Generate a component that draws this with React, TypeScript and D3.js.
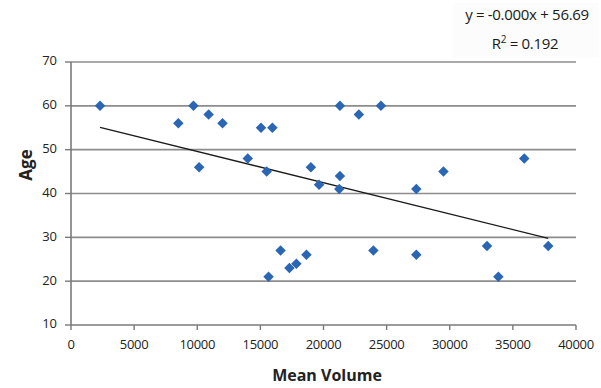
import { useEffect, useRef } from "react";
import * as d3 from "d3";

// data
const meanVolume = [
  2300, 8500, 9700, 10150, 10900, 12000, 14000, 15050, 15950, 15500, 15650,
  16600, 17300, 17850, 18650, 19000, 19650, 21300, 21300, 21250, 22800,
  24550, 23950, 27350, 27350, 29500, 32950, 33850, 35900, 37800,
];
const age = [
  60, 56, 60, 46, 58, 56, 48, 55, 55, 45, 21, 27, 23, 24, 26, 46, 42, 60, 44,
  41, 58, 60, 27, 41, 26, 45, 28, 21, 48, 28,
];
const xTicks = [0, 5000, 10000, 15000, 20000, 25000, 30000, 35000, 40000];
const yTicks = [10, 20, 30, 40, 50, 60, 70];

export default function App() {
  const svgRef = useRef<SVGSVGElement>(null);
  const width = 601;
  const height = 388;

  useEffect(() => {
    if (!svgRef.current) return;
    const svg = d3.select(svgRef.current);
    svg.selectAll("*").remove();

    const x = d3.scaleLinear().domain([0, 40000]).range([71, 576]);
    const y = d3.scaleLinear().domain([10, 70]).range([325, 62]);
    const font = "'Open Sans', 'Noto Sans', sans-serif";

    // horizontal gridlines
    yTicks.forEach((t) => {
      if (t === 10) return;
      svg
        .append("line")
        .attr("x1", x(0))
        .attr("x2", x(40000))
        .attr("y1", y(t))
        .attr("y2", y(t))
        .attr("stroke", "#8c8c8c")
        .attr("stroke-width", 1.6);
    });

    // axes
    svg
      .append("line")
      .attr("x1", x(0))
      .attr("x2", x(0))
      .attr("y1", y(70))
      .attr("y2", y(10))
      .attr("stroke", "#7a7a7a")
      .attr("stroke-width", 1.6);
    svg
      .append("line")
      .attr("x1", x(0))
      .attr("x2", x(40000))
      .attr("y1", y(10))
      .attr("y2", y(10))
      .attr("stroke", "#7a7a7a")
      .attr("stroke-width", 1.6);

    // y ticks + labels
    yTicks.forEach((t) => {
      svg
        .append("line")
        .attr("x1", x(0) - 6)
        .attr("x2", x(0))
        .attr("y1", y(t))
        .attr("y2", y(t))
        .attr("stroke", "#7a7a7a")
        .attr("stroke-width", 1.4);
      svg
        .append("text")
        .attr("x", 57)
        .attr("y", y(t))
        .attr("text-anchor", "end")
        .attr("dominant-baseline", "middle")
        .attr("font-family", font)
        .attr("font-size", "13px")
        .attr("fill", "#222")
        .text(t);
    });

    // x ticks + labels
    xTicks.forEach((t) => {
      svg
        .append("line")
        .attr("x1", x(t))
        .attr("x2", x(t))
        .attr("y1", y(10))
        .attr("y2", y(10) + 5)
        .attr("stroke", "#7a7a7a")
        .attr("stroke-width", 1.4);
      svg
        .append("text")
        .attr("x", x(t))
        .attr("y", 346)
        .attr("text-anchor", "middle")
        .attr("dominant-baseline", "middle")
        .attr("font-family", font)
        .attr("font-size", "13px")
        .attr("letter-spacing", "-0.3px")
        .attr("fill", "#222")
        .text(t);
    });

    // axis titles
    svg
      .append("text")
      .attr("x", 327)
      .attr("y", 377)
      .attr("text-anchor", "middle")
      .attr("dominant-baseline", "middle")
      .attr("font-family", font)
      .attr("font-size", "16px")
      .attr("font-weight", "bold")
      .attr("fill", "#222")
      .text("Mean Volume");
    svg
      .append("text")
      .attr("transform", `translate(27, 165) rotate(-90)`)
      .attr("text-anchor", "middle")
      .attr("dominant-baseline", "middle")
      .attr("font-family", font)
      .attr("font-size", "17px")
      .attr("font-weight", "bold")
      .attr("fill", "#222")
      .text("Age");

    // linear trendline (least squares over the points)
    const mx = d3.mean(meanVolume)!;
    const my = d3.mean(age)!;
    const slope =
      d3.sum(meanVolume, (v, i) => (v - mx) * (age[i] - my)) /
      d3.sum(meanVolume, (v) => (v - mx) * (v - mx));
    const intercept = my - slope * mx;
    const [x0, x1] = d3.extent(meanVolume) as [number, number];
    svg
      .append("line")
      .attr("x1", x(x0))
      .attr("y1", y(intercept + slope * x0))
      .attr("x2", x(x1))
      .attr("y2", y(intercept + slope * x1))
      .attr("stroke", "#1a1a1a")
      .attr("stroke-width", 1.3);

    // diamonds
    const diamond = d3.symbol().type(d3.symbolSquare).size(55);
    meanVolume.forEach((v, i) => {
      svg
        .append("path")
        .attr("d", diamond)
        .attr("transform", `translate(${x(v)}, ${y(age[i])}) rotate(45)`)
        .attr("fill", "#2a66b3");
    });

    // equation label
    svg
      .append("rect")
      .attr("x", 453)
      .attr("y", 3)
      .attr("width", 146)
      .attr("height", 55)
      .attr("fill", "#fcfcfc");
    svg
      .append("text")
      .attr("x", 527)
      .attr("y", 16)
      .attr("text-anchor", "middle")
      .attr("dominant-baseline", "middle")
      .attr("font-family", font)
      .attr("font-size", "15px")
      .attr("letter-spacing", "-0.3px")
      .attr("fill", "#1a1a1a")
      .text("y = -0.000x + 56.69");
    const r2 = svg
      .append("text")
      .attr("x", 525)
      .attr("y", 45)
      .attr("text-anchor", "middle")
      .attr("dominant-baseline", "middle")
      .attr("font-family", font)
      .attr("font-size", "15px")
      .attr("letter-spacing", "-0.3px")
      .attr("fill", "#1a1a1a");
    r2.append("tspan").text("R");
    r2.append("tspan").attr("dy", -5).attr("font-size", "10px").text("2");
    r2.append("tspan").attr("dy", 5).text(" = 0.192");
  }, []);

  return (
    <svg
      ref={svgRef}
      width={width}
      height={height}
      style={{ position: "absolute", left: 0, top: 0, background: "#fff" }}
    ></svg>
  );
}
